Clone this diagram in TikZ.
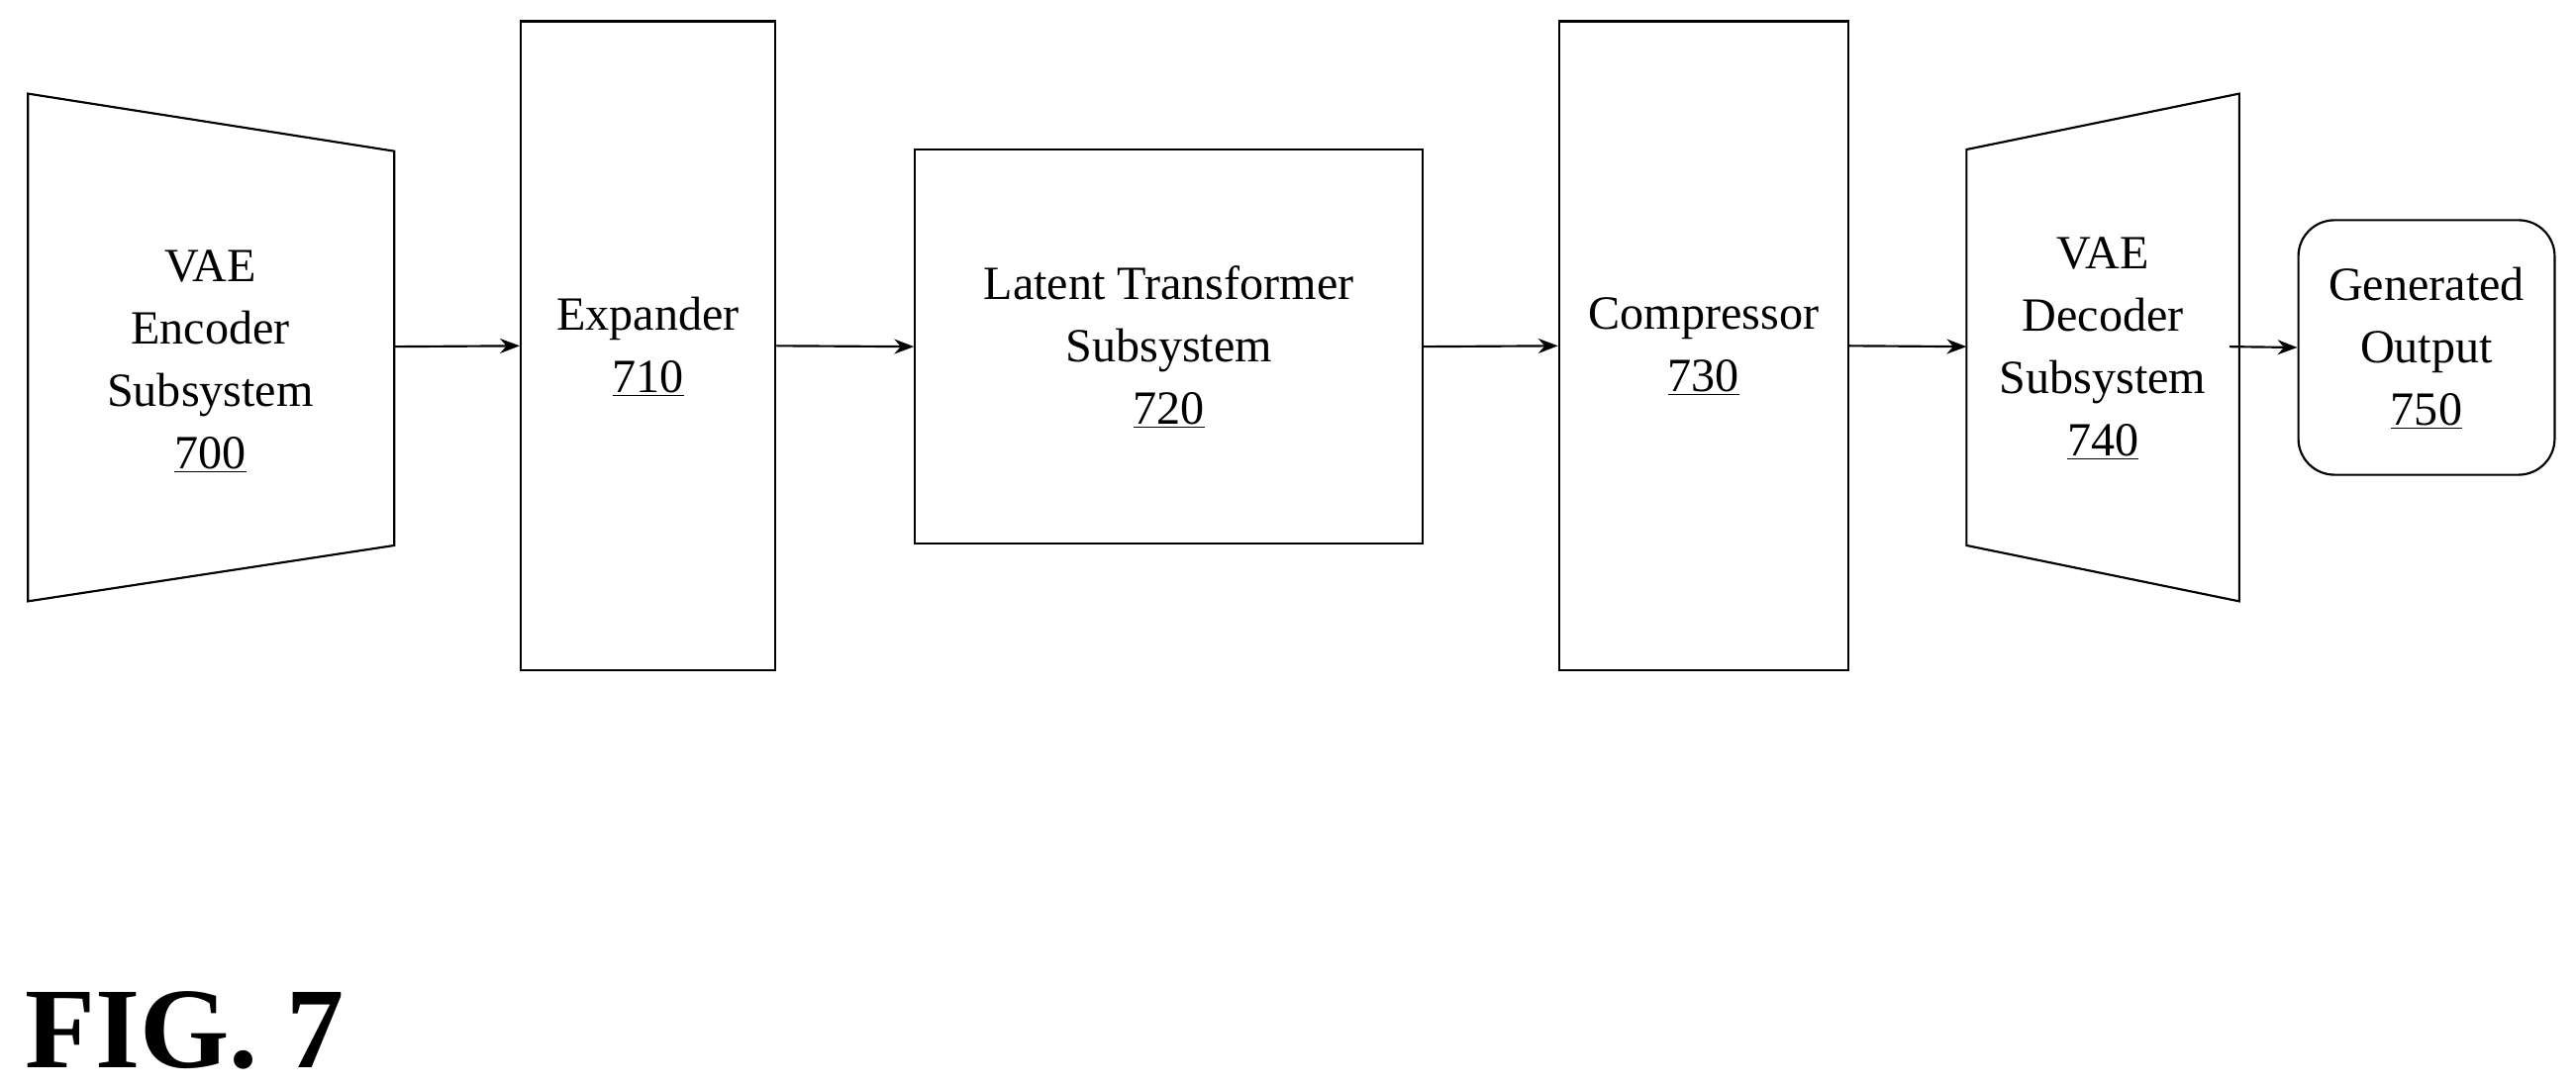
\documentclass[tikz,border=0pt]{standalone}
\usepackage{fontspec}
\setmainfont{Liberation Serif}
\usetikzlibrary{arrows.meta}
\begin{document}
\begin{tikzpicture}[x=1pt,y=-1pt,
  box/.style={draw,line width=1.3pt},
  lbl/.style={align=center,font=\fontsize{29}{38}\selectfont,inner sep=0pt},
  conn/.style={line width=1.3pt,-{Stealth[length=12pt,width=9pt]}}]
\useasboundingbox (0,0) rectangle (1568,662);
% encoder
\draw[box] (17,57) -- (240,92) -- (240,332) -- (17,366) -- cycle;
\node[lbl] (enc) at (128,220) {VAE\\Encoder\\Subsystem\\\underline{700}};
\coordinate (encR) at (240,211);
% expander
\node[box,minimum width=155pt,minimum height=395pt,inner sep=0pt] (exp) at (394.5,210.5) {};
\node[lbl] (expl) at (394.5,211) {Expander\\\underline{710}};
% latent
\node[box,minimum width=309pt,minimum height=240pt,inner sep=0pt] (lat) at (711.5,211) {};
\node[lbl] (latl) at (711.5,211) {Latent Transformer\\Subsystem\\\underline{720}};
% compressor
\node[box,minimum width=176pt,minimum height=395pt,inner sep=0pt] (cmp) at (1037,210.5) {};
\node[lbl] (cmpl) at (1037,211) {Compressor\\\underline{730}};
% decoder
\draw[box] (1197,91) -- (1363,57) -- (1363,366) -- (1197,332) -- cycle;
\node[lbl] (dec) at (1280,212) {VAE\\Decoder\\Subsystem\\\underline{740}};
\coordinate (decL) at (1197,211);
\coordinate (decR) at (1357,211);
% output
\node[box,rounded corners=22pt,minimum width=156pt,minimum height=155pt,inner sep=0pt] (out) at (1477,211.5) {};
\node[lbl] (outl) at (1477,212) {Generated\\Output\\\underline{750}};
% connectors
\draw[conn] (encR) -- (exp.west);
\draw[conn] (exp.east) -- (lat.west);
\draw[conn] (lat.east) -- (cmp.west);
\draw[conn] (cmp.east) -- (decL);
\draw[conn] (decR) -- (out.west);
\node[anchor=base west,inner sep=0pt,font=\fontsize{70}{80}\selectfont\bfseries] (fig) at (15,650) {FIG. 7};
\end{tikzpicture}
\end{document}
